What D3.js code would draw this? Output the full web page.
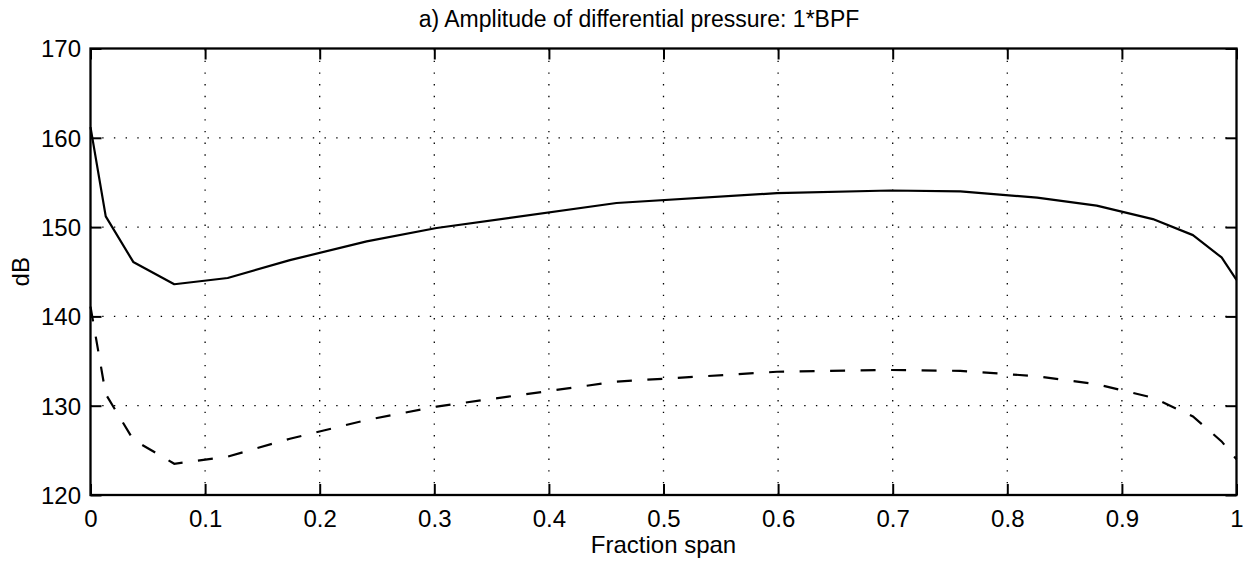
<!DOCTYPE html>
<html>
<head>
<meta charset="utf-8">
<script src="https://cdn.jsdelivr.net/npm/d3@7"></script>
<style>
  html, body { margin: 0; padding: 0; background: #fff; }
  svg { display: block; }
  text { font-family: "Liberation Sans", Arial, Helvetica, sans-serif; fill: #000; }
</style>
</head>
<body>
<svg id="chart" width="1244" height="569"></svg>
<script>
// Span positions (fraction of span) where the amplitude was sampled
const span = [0, 0.0133, 0.0373, 0.0731, 0.1197, 0.174, 0.241, 0.302, 0.459, 0.599, 0.698, 0.759, 0.826, 0.878, 0.927, 0.962, 0.987, 1.0];
// Amplitude, solid curve (dB)
const ampSolid = [161.2, 151.2, 146.1, 143.6, 144.3, 146.3, 148.4, 149.9, 152.7, 153.8, 154.1, 154.0, 153.3, 152.4, 150.9, 149.1, 146.6, 144.1];
// Amplitude, dashed curve (dB)
const ampDashed = [141.1, 131.3, 126.2, 123.5, 124.3, 126.3, 128.4, 129.9, 132.7, 133.8, 134.0, 133.9, 133.3, 132.4, 130.9, 128.8, 126.0, 124.0];
// Axis ticks
const xTicks = [0, 0.1, 0.2, 0.3, 0.4, 0.5, 0.6, 0.7, 0.8, 0.9, 1];
const yTicks = [120, 130, 140, 150, 160, 170];
const xTickLabels = ["0", "0.1", "0.2", "0.3", "0.4", "0.5", "0.6", "0.7", "0.8", "0.9", "1"];

const titleText = "a) Amplitude of differential pressure: 1*BPF";
const xLabelText = "Fraction span";
const yLabelText = "dB";

const svg = d3.select("#chart");
const plotLeft = 90.5, plotRight = 1236.5, plotTop = 48.5, plotBottom = 495;

const x = d3.scaleLinear().domain([0, 1]).range([plotLeft, plotRight]);
const y = d3.scaleLinear().domain([120, 170]).range([plotBottom, plotTop]);

// dotted grid
const grid = svg.append("g").attr("stroke", "#000").attr("stroke-width", 1.3)
  .attr("stroke-dasharray", "1.4,10.3");
grid.selectAll("line.vx").data(xTicks.slice(1, -1)).join("line")
  .attr("x1", d => x(d)).attr("x2", d => x(d))
  .attr("y1", plotBottom).attr("y2", plotTop);
grid.selectAll("line.hy").data(yTicks.slice(1, -1)).join("line")
  .attr("x1", plotLeft).attr("x2", plotRight)
  .attr("y1", d => y(d)).attr("y2", d => y(d));

// axes with inward ticks on all four sides
const tickLen = 11;
const fontSize = 24;
const axB = svg.append("g").attr("transform", `translate(0,${plotBottom})`)
  .call(d3.axisBottom(x).tickValues(xTicks).tickSizeInner(-tickLen).tickSizeOuter(0)
    .tickPadding(0).tickFormat((d, i) => xTickLabels[i]));
const axT = svg.append("g").attr("transform", `translate(0,${plotTop})`)
  .call(d3.axisTop(x).tickValues(xTicks).tickSizeInner(-tickLen).tickSizeOuter(0).tickFormat(""));
const axL = svg.append("g").attr("transform", `translate(${plotLeft},0)`)
  .call(d3.axisLeft(y).tickValues(yTicks).tickSizeInner(-tickLen).tickSizeOuter(0)
    .tickPadding(0).tickFormat(d3.format("d")));
const axR = svg.append("g").attr("transform", `translate(${plotRight},0)`)
  .call(d3.axisRight(y).tickValues(yTicks).tickSizeInner(-tickLen).tickSizeOuter(0).tickFormat(""));

[axB, axT, axL, axR].forEach(g => {
  g.select(".domain").remove();
  g.selectAll(".tick line").attr("stroke", "#000").attr("stroke-width", 2);
  g.selectAll("text").attr("font-family", "'Liberation Sans', Arial, sans-serif")
    .attr("font-size", fontSize).attr("fill", "#000");
});
axB.selectAll(".tick text").attr("dy", null).attr("y", 31.5);
axL.selectAll(".tick text").attr("x", -9.5).attr("dy", "0.35em");

// frame
svg.append("rect").attr("x", plotLeft).attr("y", plotTop)
  .attr("width", plotRight - plotLeft).attr("height", plotBottom - plotTop)
  .attr("fill", "none").attr("stroke", "#000").attr("stroke-width", 2.3);

// curves
const line = d3.line().x((d, i) => x(span[i])).y(d => y(d));
svg.append("path").datum(ampSolid).attr("d", line)
  .attr("fill", "none").attr("stroke", "#000").attr("stroke-width", 2.2)
  .attr("stroke-linejoin", "round");
svg.append("path").datum(ampDashed).attr("d", line)
  .attr("fill", "none").attr("stroke", "#000").attr("stroke-width", 2.2)
  .attr("stroke-dasharray", "15,15.5");

// labels
svg.append("text").attr("x", 639).attr("y", 27).attr("text-anchor", "middle")
  .attr("font-size", 23).text(titleText);
svg.append("text").attr("x", (plotLeft + plotRight) / 2).attr("y", 553).attr("text-anchor", "middle")
  .attr("font-size", fontSize).text(xLabelText);
svg.append("text").attr("transform", `translate(29,${(plotTop + plotBottom) / 2}) rotate(-90)`)
  .attr("text-anchor", "middle").attr("font-size", fontSize).text(yLabelText);
</script>
</body>
</html>
